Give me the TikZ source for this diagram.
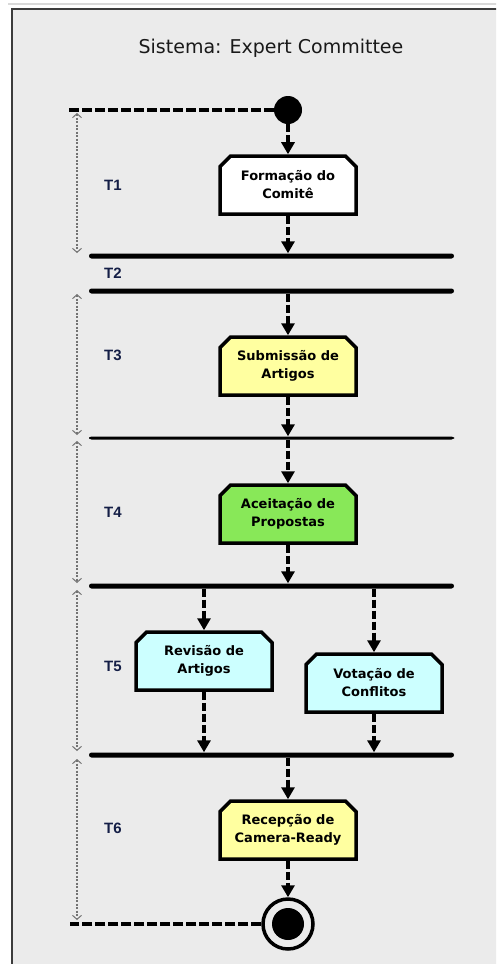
\documentclass[tikz,border=0pt]{standalone}
\usepackage{fontspec}
\setmainfont{DejaVu Sans}
\newfontfamily\labelfont{Liberation Sans}
\usetikzlibrary{arrows.meta,shapes.misc}

\definecolor{panelgray}{RGB}{235,235,235}
\definecolor{paneledge}{RGB}{60,60,60}
\definecolor{actyellow}{RGB}{255,255,160}
\definecolor{actgreen}{RGB}{136,232,88}
\definecolor{actcyan}{RGB}{204,255,255}
\definecolor{tlabel}{RGB}{20,30,70}

\tikzset{
  activity/.style={chamfered rectangle,
    chamfered rectangle corners={north west,north east},
    chamfered rectangle xsep=7pt,
    draw, line width=3.5pt, minimum width=136pt, minimum height=58pt,
    inner sep=2pt, align=center, font=\bfseries\fontsize{13}{18}\selectfont},
  syncbar/.style={rectangle, fill=black, inner sep=0pt,
    minimum width=365pt, minimum height=5pt, rounded corners=2.5pt},
  flow/.style={line width=3.5pt, dash pattern=on 8pt off 3pt,
    -{Triangle[length=12pt,width=13pt]}},
  frame/.style={line width=3.5pt, dash pattern=on 10pt off 3pt},
  period/.style={gray!90!black, line width=1.2pt, dash pattern=on 2pt off 1.5pt,
    {Straight Barb[length=4pt,width=9pt,line width=1pt]}-{Straight Barb[length=4pt,width=9pt,line width=1pt]}},
  tname/.style={font=\labelfont\bfseries\fontsize{15}{17}\selectfont, text=tlabel}
}

\begin{document}
\begin{tikzpicture}[x=1pt,y=-1pt]
  \clip (0,0) rectangle (496,964);
  \fill[white] (0,0) rectangle (496,964);
  \draw[gray!30, line width=2pt] (8,4) -- (500,4);
  \draw[fill=panelgray, draw=paneledge, line width=2pt] (12,9) rectangle (510,980);

  \node[font=\fontsize{19}{22}\selectfont, text=black!90] (title) at (271,48) {Sistema: Expert Committee};

  % activities
  \node[circle, fill=black, minimum size=28pt, inner sep=0pt] (start) at (288,110) {};
  \node[activity, fill=white] (formacao) at (288,185) {Formação do\\Comitê};
  \node[activity, fill=actyellow] (submissao) at (288,366) {Submissão de\\Artigos};
  \node[activity, fill=actgreen] (aceitacao) at (288,514) {Aceitação de\\Propostas};
  \node[activity, fill=actcyan] (revisao) at (204,661) {Revisão de\\Artigos};
  \node[activity, fill=actcyan] (votacao) at (374,683) {Votação de\\Conflitos};
  \node[activity, fill=actyellow] (recepcao) at (288,830) {Recepção de\\Camera-Ready};
  \node[circle, draw, line width=3.5pt, minimum size=50pt, inner sep=0pt] (final) at (288,924) {};
  \node[circle, fill=black, minimum size=32pt, inner sep=0pt] (finaldot) at (final) {};

  % sync bars
  \node[syncbar] (bar1) at (271.5,256) {};
  \node[syncbar] (bar2) at (271.5,291) {};
  \node[syncbar, minimum height=3pt] (bar3) at (271.5,438) {};
  \node[syncbar] (bar4) at (271.5,586) {};
  \node[syncbar] (bar5) at (271.5,755) {};

  % periods
  \node[tname] (t1) at (113,185) {T1};
  \node[tname] (t2) at (113,273) {T2};
  \node[tname] (t3) at (113,355) {T3};
  \node[tname] (t4) at (113,512) {T4};
  \node[tname] (t5) at (113,666) {T5};
  \node[tname] (t6) at (113,828) {T6};

  \coordinate (topend) at (67,110);
  \coordinate (bottomend) at (70,924);
  \draw[frame] (start.west) -- (topend);
  \draw[frame] (final.west) -- (bottomend);

  \draw[period] (77,113) -- (77,253);
  \draw[period] (77,294) -- (77,435);
  \draw[period] (77,441) -- (77,583);
  \draw[period] (77,590) -- (77,751);
  \draw[period] (77,759) -- (77,920);

  % flows
  \begin{scope}
    \draw[flow] (start) -- (formacao);
    \draw[flow] (formacao.south) -- (formacao.south |- bar1.north);
    \draw[flow] (submissao.north |- bar2.south) -- (submissao.north);
    \draw[flow] (submissao.south) -- (submissao.south |- bar3.north);
    \draw[flow] (aceitacao.north |- bar3.south) -- (aceitacao.north);
    \draw[flow] (aceitacao.south) -- (aceitacao.south |- bar4.north);
    \draw[flow] (revisao.north |- bar4.south) -- (revisao.north);
    \draw[flow] (votacao.north |- bar4.south) -- (votacao.north);
    \draw[flow] (revisao.south) -- (revisao.south |- bar5.north);
    \draw[flow] (votacao.south) -- (votacao.south |- bar5.north);
    \draw[flow] (recepcao.north |- bar5.south) -- (recepcao.north);
    \draw[flow] (recepcao.south) -- (final.north);
  \end{scope}
\end{tikzpicture}
\end{document}
